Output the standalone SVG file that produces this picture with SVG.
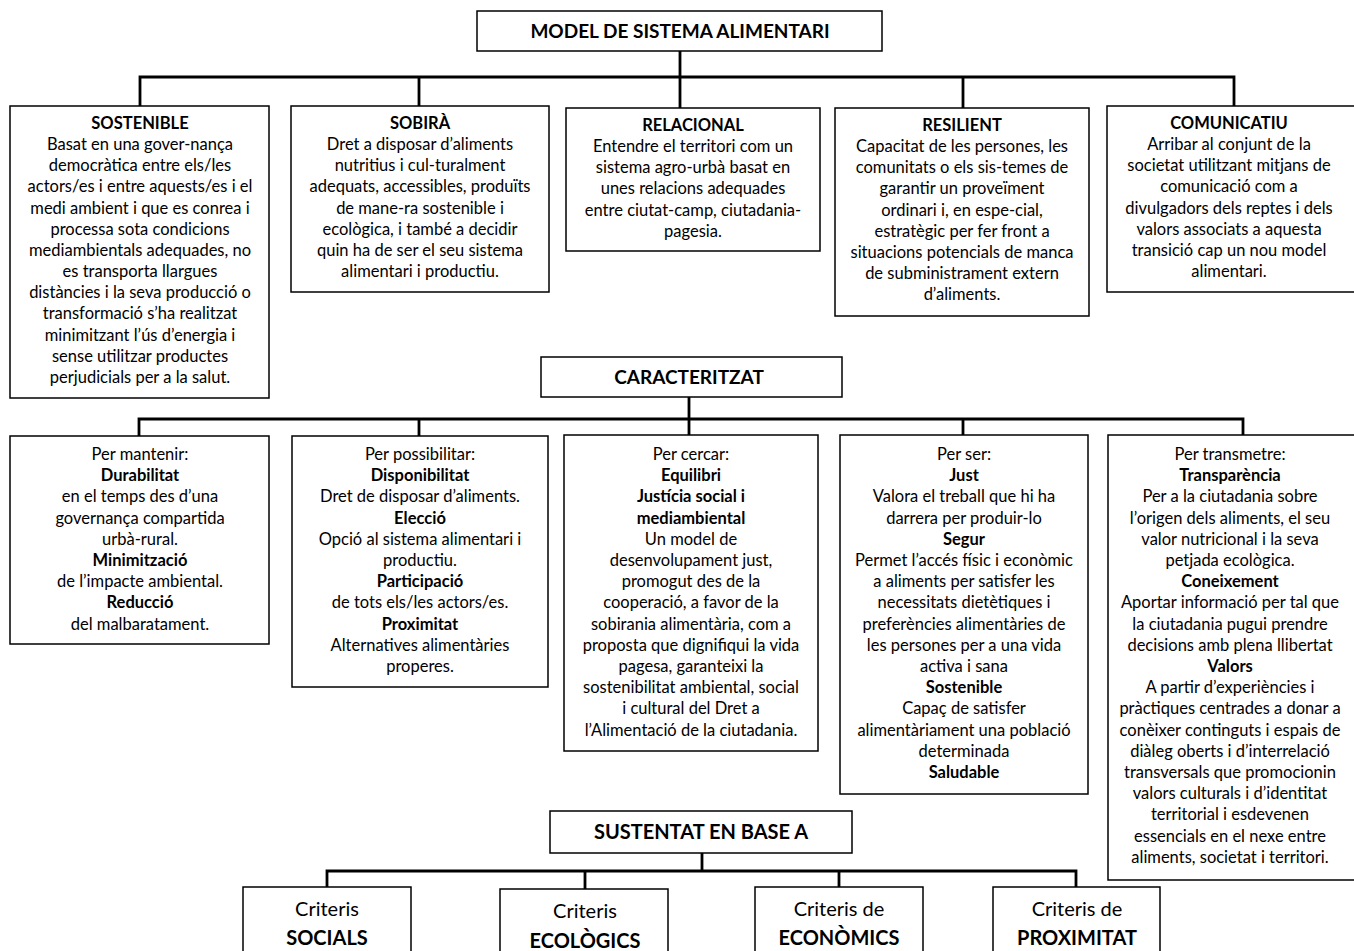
<svg xmlns="http://www.w3.org/2000/svg" width="1354" height="951" viewBox="0 0 1354 951">
<style>
.bg{fill:#fff}
.box{fill:#fff;stroke:#000;stroke-width:1.5}
.conn{stroke:#000;stroke-width:2.8;fill:none;stroke-linecap:square}
text{font-family:Lato,"Liberation Sans",sans-serif;font-size:16.5px;fill:#000;text-anchor:middle}
.b{font-weight:bold}
.t{font-size:19px;font-weight:bold}
.t2{font-size:20px;font-weight:bold}
.c{font-size:20px}
</style>
<rect class="bg" x="0" y="0" width="1354" height="951"/>
<g id="connectors">
<path class="conn" d="M680 51V108M140 77H1234M140 77V106M419 77V106M963 77V108M1234 77V106"/>
<path class="conn" d="M689 397V435M139 419H1243M139 419V436M419 419V436M963 419V435M1243 419V435"/>
<path class="conn" d="M702 853V871M327 871H1076M327 871V887M585 871V889M839 871V887M1076 871V887"/>
</g>
<g id="n-model">
<rect class="box" x="477" y="11" width="405" height="40"/>
<text class="t" x="680" y="37.5">MODEL DE SISTEMA ALIMENTARI</text>
</g>
<g id="n-sostenible">
<rect class="box" x="10" y="106" width="259" height="292"/>
<text x="140"><tspan class="b" x="140" y="129">SOSTENIBLE</tspan><tspan x="140" y="150.15">Basat en una gover-nança</tspan><tspan x="140" y="171.3">democràtica entre els/les</tspan><tspan x="140" y="192.45">actors/es i entre aquests/es i el</tspan><tspan x="140" y="213.6">medi ambient i que es conrea i</tspan><tspan x="140" y="234.75">processa sota condicions</tspan><tspan x="140" y="255.9">mediambientals adequades, no</tspan><tspan x="140" y="277.05">es transporta llargues</tspan><tspan x="140" y="298.2">distàncies i la seva producció o</tspan><tspan x="140" y="319.35">transformació s’ha realitzat</tspan><tspan x="140" y="340.5">minimitzant l’ús d’energia i</tspan><tspan x="140" y="361.65">sense utilitzar productes</tspan><tspan x="140" y="382.8">perjudicials per a la salut.</tspan></text>
</g>
<g id="n-sobira">
<rect class="box" x="291" y="106" width="258" height="186"/>
<text x="420"><tspan class="b" x="420" y="129">SOBIRÀ</tspan><tspan x="420" y="150.15">Dret  a disposar d’aliments</tspan><tspan x="420" y="171.3">nutritius i cul-turalment</tspan><tspan x="420" y="192.45">adequats, accessibles, produïts</tspan><tspan x="420" y="213.6">de mane-ra sostenible i</tspan><tspan x="420" y="234.75">ecològica, i també a decidir</tspan><tspan x="420" y="255.9">quin ha de ser el seu sistema</tspan><tspan x="420" y="277.05">alimentari i productiu.</tspan></text>
</g>
<g id="n-relacional">
<rect class="box" x="566" y="108" width="254" height="143"/>
<text x="693"><tspan class="b" x="693" y="131">RELACIONAL</tspan><tspan x="693" y="152.15">Entendre el territori com un</tspan><tspan x="693" y="173.3">sistema agro-urbà basat en</tspan><tspan x="693" y="194.45">unes relacions adequades</tspan><tspan x="693" y="215.6">entre ciutat-camp, ciutadania-</tspan><tspan x="693" y="236.75">pagesia.</tspan></text>
</g>
<g id="n-resilient">
<rect class="box" x="835" y="108" width="254" height="208"/>
<text x="962"><tspan class="b" x="962" y="131">RESILIENT</tspan><tspan x="962" y="152.15">Capacitat de les persones, les</tspan><tspan x="962" y="173.3">comunitats o els sis-temes de</tspan><tspan x="962" y="194.45">garantir un proveïment</tspan><tspan x="962" y="215.6">ordinari i, en espe-cial,</tspan><tspan x="962" y="236.75">estratègic per fer front a</tspan><tspan x="962" y="257.9">situacions potencials de manca</tspan><tspan x="962" y="279.05">de subministrament extern</tspan><tspan x="962" y="300.2">d’aliments.</tspan></text>
</g>
<g id="n-comunicatiu">
<rect class="box" x="1107" y="106" width="260" height="186"/>
<text x="1229"><tspan class="b" x="1229" y="129">COMUNICATIU</tspan><tspan x="1229" y="150.15">Arribar al conjunt de la</tspan><tspan x="1229" y="171.3">societat utilitzant mitjans de</tspan><tspan x="1229" y="192.45">comunicació com a</tspan><tspan x="1229" y="213.6">divulgadors dels reptes i dels</tspan><tspan x="1229" y="234.75">valors associats a aquesta</tspan><tspan x="1229" y="255.9">transició  cap un nou model</tspan><tspan x="1229" y="277.05">alimentari.</tspan></text>
</g>
<g id="n-caracteritzat">
<rect class="box" x="541" y="357" width="301" height="40"/>
<text class="t" x="689" y="384">CARACTERITZAT</text>
</g>
<g id="n-mantenir">
<rect class="box" x="10" y="436" width="259" height="208"/>
<text x="140"><tspan x="140" y="460">Per mantenir:</tspan><tspan class="b" x="140" y="481.2">Durabilitat</tspan><tspan x="140" y="502.4">en el temps des d’una</tspan><tspan x="140" y="523.6">governança compartida</tspan><tspan x="140" y="544.8">urbà-rural.</tspan><tspan class="b" x="140" y="566">Minimització</tspan><tspan x="140" y="587.2">de l’impacte ambiental.</tspan><tspan class="b" x="140" y="608.4">Reducció</tspan><tspan x="140" y="629.6">del malbaratament.</tspan></text>
</g>
<g id="n-possibilitar">
<rect class="box" x="292" y="436" width="256" height="251"/>
<text x="420"><tspan x="420" y="460">Per possibilitar:</tspan><tspan class="b" x="420" y="481.2">Disponibilitat</tspan><tspan x="420" y="502.4">Dret de disposar d’aliments.</tspan><tspan class="b" x="420" y="523.6">Elecció</tspan><tspan x="420" y="544.8">Opció al sistema alimentari i</tspan><tspan x="420" y="566">productiu.</tspan><tspan class="b" x="420" y="587.2">Participació</tspan><tspan x="420" y="608.4">de tots els/les actors/es.</tspan><tspan class="b" x="420" y="629.6">Proximitat</tspan><tspan x="420" y="650.8">Alternatives alimentàries</tspan><tspan x="420" y="672">properes.</tspan></text>
</g>
<g id="n-cercar">
<rect class="box" x="564" y="435" width="254" height="316"/>
<text x="691"><tspan x="691" y="460">Per cercar:</tspan><tspan class="b" x="691" y="481.2">Equilibri</tspan><tspan class="b" x="691" y="502.4">Justícia social i</tspan><tspan class="b" x="691" y="523.6">mediambiental</tspan><tspan x="691" y="544.8">Un model de</tspan><tspan x="691" y="566">desenvolupament  just,</tspan><tspan x="691" y="587.2">promogut des de la</tspan><tspan x="691" y="608.4">cooperació, a favor de la</tspan><tspan x="691" y="629.6">sobirania alimentària, com a</tspan><tspan x="691" y="650.8">proposta que dignifiqui la vida</tspan><tspan x="691" y="672">pagesa, garanteixi la</tspan><tspan x="691" y="693.2">sostenibilitat ambiental, social</tspan><tspan x="691" y="714.4">i cultural del Dret a</tspan><tspan x="691" y="735.6">l’Alimentació de la ciutadania.</tspan></text>
</g>
<g id="n-ser">
<rect class="box" x="840" y="435" width="248" height="359"/>
<text x="964"><tspan x="964" y="460">Per ser:</tspan><tspan class="b" x="964" y="481.2">Just</tspan><tspan x="964" y="502.4">Valora el treball que hi ha</tspan><tspan x="964" y="523.6">darrera per produir-lo</tspan><tspan class="b" x="964" y="544.8">Segur</tspan><tspan x="964" y="566">Permet l’accés físic i econòmic</tspan><tspan x="964" y="587.2">a aliments per satisfer les</tspan><tspan x="964" y="608.4">necessitats dietètiques i</tspan><tspan x="964" y="629.6">preferències alimentàries de</tspan><tspan x="964" y="650.8">les persones per a una vida</tspan><tspan x="964" y="672">activa i sana</tspan><tspan class="b" x="964" y="693.2">Sostenible</tspan><tspan x="964" y="714.4">Capaç de satisfer</tspan><tspan x="964" y="735.6">alimentàriament una població</tspan><tspan x="964" y="756.8">determinada</tspan><tspan class="b" x="964" y="778">Saludable</tspan></text>
</g>
<g id="n-transmetre">
<rect class="box" x="1108" y="435" width="260" height="445"/>
<text x="1230"><tspan x="1230" y="460">Per transmetre:</tspan><tspan class="b" x="1230" y="481.2">Transparència</tspan><tspan x="1230" y="502.4">Per a la ciutadania sobre</tspan><tspan x="1230" y="523.6">l’origen dels aliments, el seu</tspan><tspan x="1230" y="544.8">valor nutricional i la seva</tspan><tspan x="1230" y="566">petjada ecològica.</tspan><tspan class="b" x="1230" y="587.2">Coneixement</tspan><tspan x="1230" y="608.4">Aportar informació per tal que</tspan><tspan x="1230" y="629.6">la ciutadania pugui prendre</tspan><tspan x="1230" y="650.8">decisions amb plena llibertat</tspan><tspan class="b" x="1230" y="672">Valors</tspan><tspan x="1230" y="693.2">A partir d’experiències i</tspan><tspan x="1230" y="714.4">pràctiques centrades a donar a</tspan><tspan x="1230" y="735.6">conèixer continguts i espais de</tspan><tspan x="1230" y="756.8">diàleg oberts i d’interrelació</tspan><tspan x="1230" y="778">transversals que  promocionin</tspan><tspan x="1230" y="799.2">valors culturals i d’identitat</tspan><tspan x="1230" y="820.4">territorial i esdevenen</tspan><tspan x="1230" y="841.6">essencials  en el nexe entre</tspan><tspan x="1230" y="862.8">aliments, societat i territori.</tspan></text>
</g>
<g id="n-sustentat">
<rect class="box" x="550" y="811" width="302" height="42"/>
<text class="t2" x="701" y="839">SUSTENTAT EN BASE A</text>
</g>
<g id="n-socials">
<rect class="box" x="243" y="887" width="168" height="80"/>
<text class="c" x="327"><tspan x="327" y="916">Criteris</tspan><tspan class="b" x="327" y="945">SOCIALS</tspan></text>
</g>
<g id="n-ecologics">
<rect class="box" x="500" y="889" width="168" height="80"/>
<text class="c" x="585"><tspan x="585" y="918">Criteris</tspan><tspan class="b" x="585" y="948">ECOLÒGICS</tspan></text>
</g>
<g id="n-economics">
<rect class="box" x="755" y="887" width="168" height="80"/>
<text class="c" x="839"><tspan x="839" y="916">Criteris de</tspan><tspan class="b" x="839" y="945">ECONÒMICS</tspan></text>
</g>
<g id="n-proximitat">
<rect class="box" x="993" y="887" width="167" height="80"/>
<text class="c" x="1077"><tspan x="1077" y="916">Criteris de</tspan><tspan class="b" x="1077" y="945">PROXIMITAT</tspan></text>
</g>
</svg>
